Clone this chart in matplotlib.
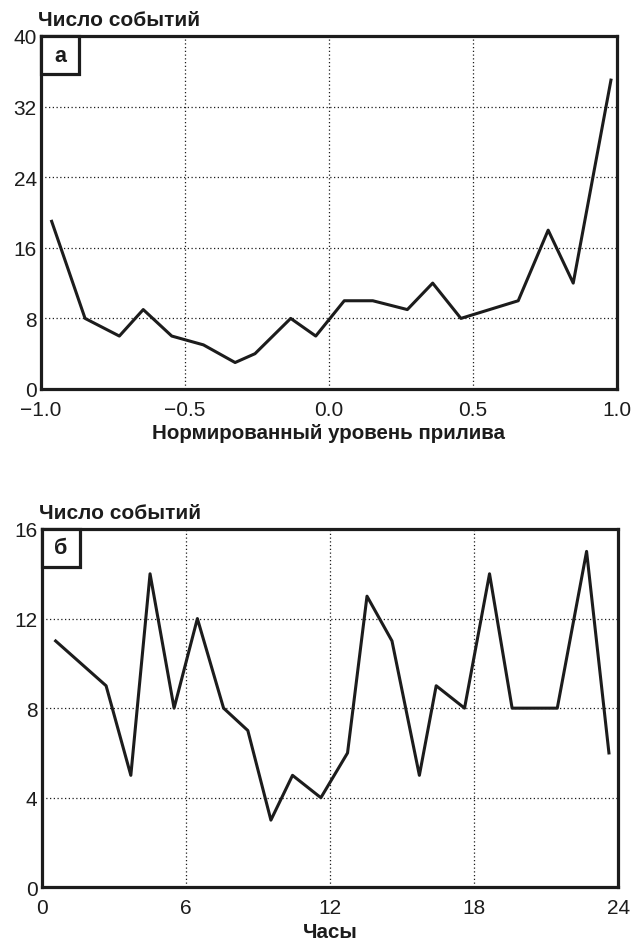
import numpy as np
import matplotlib
matplotlib.use("Agg")
import matplotlib.pyplot as plt
from matplotlib.patches import Rectangle

plt.rcParams['font.family'] = ['Liberation Sans', 'DejaVu Sans']

# panel a: events vs normalised tide level
tide_x = [-0.963, -0.847, -0.728, -0.645, -0.546, -0.436, -0.326, -0.257, -0.133, -0.046,
          0.053, 0.152, 0.272, 0.36, 0.458, 0.657, 0.761, 0.848, 0.979]
tide_n = [19, 8, 6, 9, 6, 5, 3, 4, 8, 6,
          10, 10, 9, 12, 8, 10, 18, 12, 35]

# panel b: events vs hour of day
hours = [0.58, 2.68, 3.71, 4.51, 5.51, 6.48, 7.57, 8.58, 9.54, 10.44, 11.62,
         12.73, 13.54, 14.58, 15.72, 16.42, 17.6, 18.64, 19.58, 21.46, 22.68, 23.61]
hour_n = [11, 9, 5, 14, 8, 12, 8, 7, 3, 5, 4,
          6, 13, 11, 5, 9, 8, 14, 8, 8, 15, 6]

ink = "#1c1c1c"

fig = plt.figure(figsize=(6.34, 9.45), dpi=100)
ax1 = fig.add_axes([41/634, 1 - 390/945, 576/634, 353/945])
ax2 = fig.add_axes([41.7/634, 1 - 888.3/945, 576.6/634, 358.3/945])


def style(ax, xlim, ylim, xticks, yticks, xlabels, letter, xlabel):
    ax.set_xlim(*xlim)
    ax.set_ylim(*ylim)
    ax.set_xticks(xticks)
    ax.set_xticklabels(xlabels)
    ax.set_yticks(yticks)
    ax.tick_params(length=0, labelsize=15, colors=ink)
    ax.tick_params(axis="x", pad=8)
    ax.tick_params(axis="y", pad=3)
    ax.grid(True, color=ink, linestyle=(0, (1, 2)), linewidth=0.9)
    for s in ax.spines.values():
        s.set_linewidth(2.3)
        s.set_color(ink)
    # boxed panel letter in the top-left corner
    w = 38 / (ax.get_position().width * 634)
    h = 38 / (ax.get_position().height * 945)
    ax.add_patch(Rectangle((0, 1 - h), w, h, transform=ax.transAxes, fill=True,
                           facecolor="white", edgecolor=ink, linewidth=2.3, zorder=5,
                           clip_on=False))
    ax.text(w / 2, 1 - h / 2, letter, transform=ax.transAxes, ha="center", va="center",
            fontsize=15.5, fontweight="bold", color=ink, zorder=6)
    ax.text(-0.005, 1.02, "Число событий", transform=ax.transAxes, ha="left", va="bottom",
            fontsize=15, fontweight="bold", color=ink)
    ax.set_xlabel(xlabel, fontsize=14.8, fontweight="bold", color=ink, labelpad=3)


ax1.plot(tide_x, tide_n, color=ink, linewidth=2.2, zorder=3)
style(ax1, (-1, 1), (0, 40), [-1, -0.5, 0, 0.5, 1], [0, 8, 16, 24, 32, 40],
      ["\u22121.0", "\u22120.5", "0.0", "0.5", "1.0"], "а",
      "Нормированный уровень прилива")

ax2.plot(hours, hour_n, color=ink, linewidth=2.2, zorder=3)
style(ax2, (0, 24), (0, 16), [0, 6, 12, 18, 24], [0, 4, 8, 12, 16],
      ["0", "6", "12", "18", "24"], "б", "Часы")

fig.savefig("out.png", dpi=100)
